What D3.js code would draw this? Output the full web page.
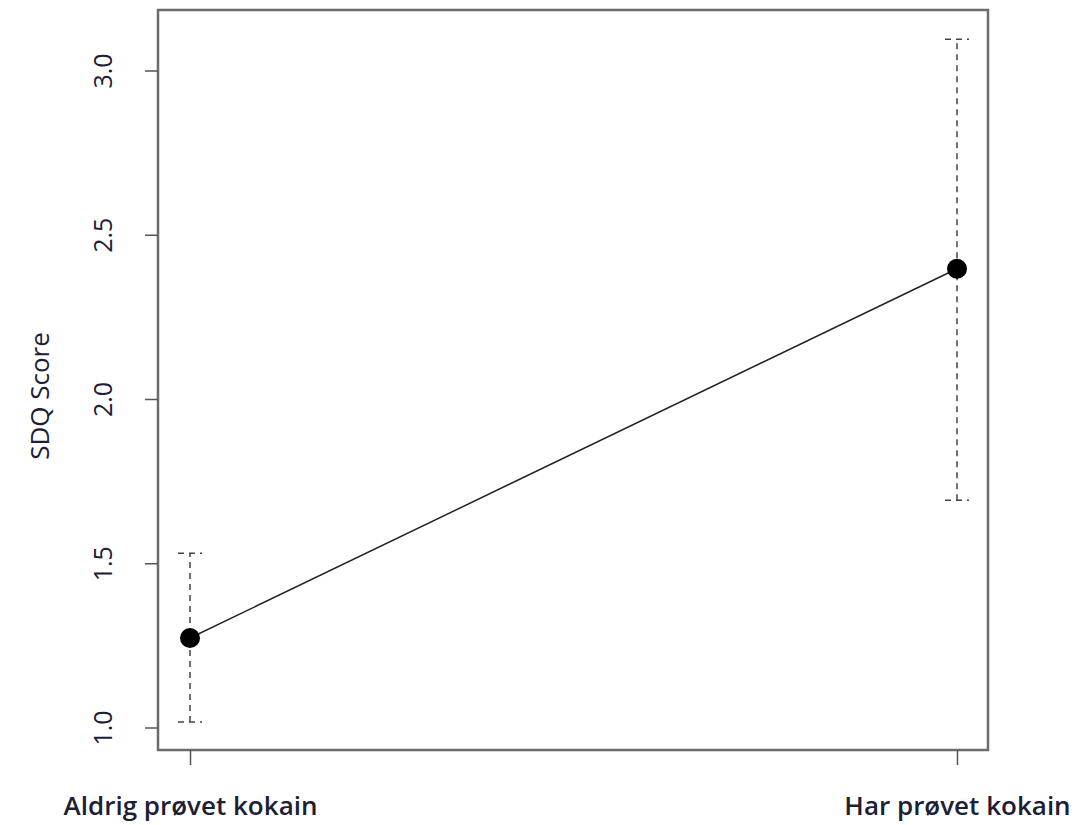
<!DOCTYPE html>
<html><head><meta charset="utf-8">
<script src="https://cdn.jsdelivr.net/npm/d3@7"></script>
<style>body{margin:0;background:#fff}svg text{font-family:"Open Sans",sans-serif;fill:#1b2035;font-weight:600}</style>
</head><body>
<svg id="c" width="1090" height="825"></svg>
<script>
const categories = ["Aldrig prøvet kokain", "Har prøvet kokain"];
const means = [1.274, 2.398];
const lower = [1.018, 1.693];
const upper = [1.532, 3.097];
const yTicks = [1.0, 1.5, 2.0, 2.5, 3.0];
const yLabel = "SDQ Score";

const svg = d3.select("#c");
const L = 158, R = 988, T = 10, B = 750;
const x = d3.scalePoint().domain(categories).range([190, 957]);
const y = d3.scaleLinear().domain([1, 3]).range([728, 71]);
const data = categories.map((c, i) => ({c, m: means[i], lo: lower[i], hi: upper[i]}));

// box
svg.append("rect").attr("x", L).attr("y", T).attr("width", R - L).attr("height", B - T)
  .attr("fill", "none").attr("stroke", "#6b6b6b").attr("stroke-width", 2.5);

// y axis
const ya = svg.append("g").attr("transform", `translate(${L},0)`)
  .call(d3.axisLeft(y).tickValues(yTicks).tickFormat(d3.format(".1f")).tickSize(13));
ya.select(".domain").remove();
ya.selectAll(".tick").attr("transform", null);
ya.selectAll(".tick line").attr("y1", d => y(d)).attr("y2", d => y(d))
  .attr("stroke", "#555").attr("stroke-width", 1.5);
ya.selectAll(".tick text")
  .attr("transform", d => `translate(${103 - L},${y(d)}) rotate(-90)`)
  .attr("x", 0).attr("y", 0).attr("dy", "0.36em").attr("text-anchor", "middle")
  .style("font-size", "25px").style("font-weight", "500");

// x axis
const xa = svg.append("g").attr("transform", `translate(0,${B})`)
  .call(d3.axisBottom(x).tickSize(15).tickPadding(0));
xa.select(".domain").remove();
xa.selectAll("line").attr("stroke", "#555").attr("stroke-width", 1.5);
xa.selectAll("text").attr("y", 65).attr("dy", 0).style("font-size", "26px");

// y label
svg.append("text").attr("transform", `translate(40,396) rotate(-90)`)
  .attr("text-anchor", "middle").attr("dy", "0.36em").style("font-size", "26px").style("font-weight", "500").text(yLabel);

// error bars
const eb = svg.append("g").attr("stroke", "#444").attr("stroke-width", 1.5).attr("stroke-dasharray", "6,5");
data.forEach(d => {
  eb.append("line").attr("x1", x(d.c)).attr("x2", x(d.c)).attr("y1", y(d.lo)).attr("y2", y(d.hi));
  eb.append("line").attr("x1", x(d.c) - 12).attr("x2", x(d.c) + 12).attr("y1", y(d.lo)).attr("y2", y(d.lo));
  eb.append("line").attr("x1", x(d.c) - 12).attr("x2", x(d.c) + 12).attr("y1", y(d.hi)).attr("y2", y(d.hi));
});

// line
svg.append("path").datum(data)
  .attr("d", d3.line().x(d => x(d.c)).y(d => y(d.m)))
  .attr("fill", "none").attr("stroke", "#222").attr("stroke-width", 1.5);

// points
svg.selectAll("circle.pt").data(data).join("circle").attr("class", "pt")
  .attr("cx", d => x(d.c)).attr("cy", d => y(d.m)).attr("r", 10).attr("fill", "#000");
</script>
</body></html>
